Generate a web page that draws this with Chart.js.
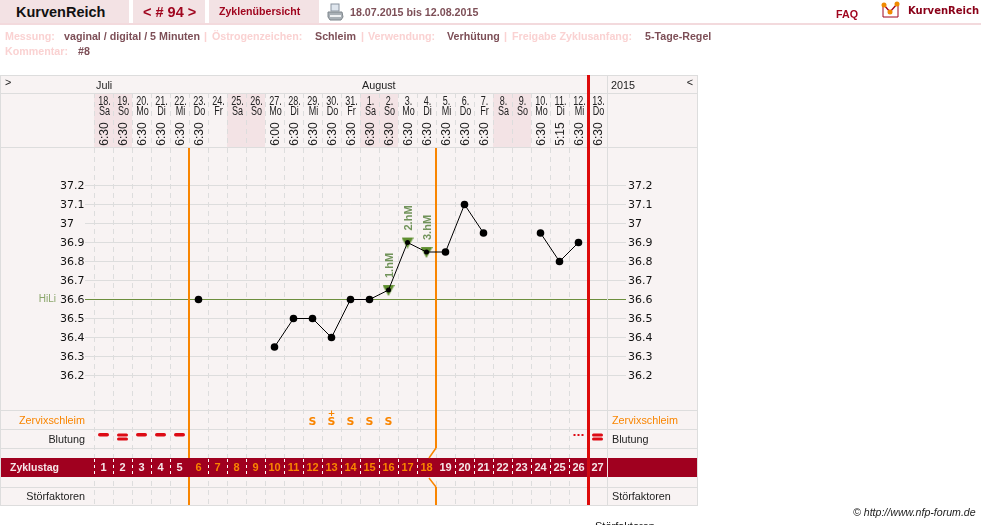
<!DOCTYPE html>
<html>
<head>
<meta charset="utf-8">
<title>KurvenReich</title>
<script src="https://cdn.jsdelivr.net/npm/chart.js@4"></script>
<style>
    html, body { margin: 0; padding: 0; background: #fff; overflow: hidden; }
    body { width: 981px; height: 525px; position: relative; font-family: "Liberation Sans", Arial, sans-serif; }
    canvas { position: absolute; left: 0; top: 0; }
    .tab { position: absolute; top: 0; height: 23px; background: #f3e2e4; }
    .rule { position: absolute; left: 0; top: 23px; width: 981px; height: 2px; background: #f3dadd; }
    .t { position: absolute; white-space: nowrap; font-size: 10.7px; line-height: 13px; font-weight: bold; }
    .key { color: #fad2d2; }
    .val { color: #7d4f57; }
    .dark { color: #a0061f; }
    svg { position: absolute; }
</style>
</head>
<body>
<canvas id="curveChart" width="981" height="525"></canvas>

<div class="tab" style="left:0;width:129px"></div>
<div class="tab" style="left:133px;width:72px"></div>
<div class="tab" style="left:209px;width:110px"></div>
<div class="rule"></div>
<div class="t" style="left:16px;top:4px;font-size:14.5px;line-height:17px;color:#111">KurvenReich</div>
<div class="t dark" style="left:143px;top:4px;font-size:14.5px;line-height:17px">&lt; # 94 &gt;</div>
<div class="t dark" style="left:219px;top:5px;font-size:10.6px">Zyklenübersicht</div>
<svg style="left:327px;top:3px" width="17" height="18" viewBox="0 0 17 18">
    <rect x="4" y="1" width="8" height="7" fill="#dfe6ee" stroke="#8a94a0"/>
    <path d="M1 9 L15 9 L16 14 L14 17 L3 17 L1 14 Z" fill="#a9b0b6" stroke="#7f868c"/>
    <rect x="3" y="12" width="11" height="2" fill="#eef0f2"/>
</svg>
<div class="t val" style="left:350px;top:6px;font-size:10.7px">18.07.2015 bis 12.08.2015</div>
<div class="t dark" style="left:836px;top:8px">FAQ</div>
<svg style="left:881px;top:1px" width="20" height="18" viewBox="0 0 20 18">
    <path d="M2 4 L2 16 L17 16 L17 4" fill="none" stroke="#a0061f" stroke-width="1"/>
    <path d="M3 4 L9 11 L16 3" fill="none" stroke="#a0061f" stroke-width="1.4"/>
    <circle cx="3" cy="4" r="2.5" fill="#f08a00"/>
    <circle cx="9" cy="11" r="2.5" fill="#f08a00"/>
    <circle cx="16" cy="3" r="2.5" fill="#f08a00"/>
</svg>
<div class="t" style="left:908px;top:4px;font-family:'DejaVu Sans';font-size:10px;color:#8a0018">KurvenReich</div>

<div class="t key" style="left:5px;top:30px">Messung:</div>
<div class="t val" style="left:64px;top:30px">vaginal / digital / 5 Minuten</div>
<div class="t key" style="left:204px;top:30px">|</div>
<div class="t key" style="left:212px;top:30px">Östrogenzeichen:</div>
<div class="t val" style="left:315px;top:30px">Schleim</div>
<div class="t key" style="left:361px;top:30px">|</div>
<div class="t key" style="left:368px;top:30px">Verwendung:</div>
<div class="t val" style="left:447px;top:30px">Verhütung</div>
<div class="t key" style="left:504px;top:30px">|</div>
<div class="t key" style="left:512px;top:30px">Freigabe Zyklusanfang:</div>
<div class="t val" style="left:645px;top:30px">5-Tage-Regel</div>
<div class="t key" style="left:5px;top:45px">Kommentar:</div>
<div class="t val" style="left:78px;top:45px">#8</div>

<script>
// one entry per cycle day
const cycleDays = ['1','2','3','4','5','6','7','8','9','10','11','12','13','14','15','16','17','18','19','20','21','22','23','24','25','26','27'];
const dates = ['18.','19.','20.','21.','22.','23.','24.','25.','26.','27.','28.','29.','30.','31.','1.','2.','3.','4.','5.','6.','7.','8.','9.','10.','11.','12.','13.'];
const weekdays = ['Sa','So','Mo','Di','Mi','Do','Fr','Sa','So','Mo','Di','Mi','Do','Fr','Sa','So','Mo','Di','Mi','Do','Fr','Sa','So','Mo','Di','Mi','Do'];
const times = ['6:30','6:30','6:30','6:30','6:30','6:30','','','','6:00','6:30','6:30','6:30','6:30','6:30','6:30','6:30','6:30','6:30','6:30','6:30','','','6:30','5:15','6:30','6:30'];
const temperatures = [null,null,null,null,null,36.6,null,null,null,36.35,36.5,36.5,36.4,36.6,36.6,36.65,36.9,36.85,36.85,37.1,36.95,null,null,36.95,36.8,36.9,null];
const highMeasures = [null,null,null,null,null,null,null,null,null,null,null,null,null,null,null,36.65,36.9,36.85,null,null,null,null,null,null,null,null,null];
const highLabels = { '16': '1.hM', '17': '2.hM', '18': '3.hM' };
const mucus = ['','','','','','','','','','','','S','S+','S','S','S','','','','','','','','','','',''];
const bleeding = [1,2,1,1,1,0,0,0,0,0,0,0,0,0,0,0,0,0,0,0,0,0,0,0,0,0.5,2];
const tickValues = [37.2,37.1,37,36.9,36.8,36.7,36.6,36.5,36.4,36.3,36.2];
const tickLabels = ['37.2','37.1','37','36.9','36.8','36.7','36.6','36.5','36.4','36.3','36.2'];
const coverLine = 36.6;
const orangeDays = [6,7,8,9,10,11,12,13,14,15,16,17,18];
const months = [{ name: 'Juli', day: '1' }, { name: 'August', day: '15' }];

const ROSE = '#f3e3e5';
const PAPER = '#f8f3f3';
const LINE = '#dddddd';
const WINE = '#a0001f';
const ORANGE = '#f98500';
const RED = '#dd0a0a';
const GREEN = '#6d8f3e';

// rows of the table around the plot
const TABLE = { left: 1, right: 697, top: 75, header: 93, plot: 148, bottom: 505 };
const rowLines = [410, 429, 448, 487];
const band = { top: 458, bottom: 477 };

function makeTriangle() {
    const c = document.createElement('canvas');
    c.width = 12;
    c.height = 12;
    const t = c.getContext('2d');
    t.fillStyle = '#5f8f30';
    t.beginPath();
    t.moveTo(0, 1);
    t.lineTo(12, 1);
    t.lineTo(6, 12);
    t.closePath();
    t.fill();
    return c;
}

function text(ctx, str, x, y, font, color, align) {
    ctx.font = font;
    ctx.fillStyle = color;
    ctx.textAlign = align || 'left';
    ctx.textBaseline = 'middle';
    ctx.fillText(str, x, y);
}

// the date columns are too tight for normal Arial, squeeze horizontally
function narrowText(ctx, str, x, y) {
    ctx.save();
    ctx.translate(x, y);
    ctx.scale(0.75, 1);
    text(ctx, str, 0, 0, '12px "Liberation Sans"', '#222', 'center');
    ctx.restore();
}

function hLine(ctx, y, x1, x2, color) {
    ctx.fillStyle = color;
    ctx.fillRect(x1, y, x2 - x1, 1);
}

const tablePlugin = {
    id: 'tablePlugin',
    beforeDraw(chart) {
        const ctx = chart.ctx;
        const x = chart.scales.x;
        const step = x.getPixelForValue(1) - x.getPixelForValue(0);
        ctx.save();
        ctx.fillStyle = PAPER;
        ctx.fillRect(TABLE.left, TABLE.top, TABLE.right - TABLE.left, TABLE.bottom - TABLE.top);
        // weekend columns
        ctx.fillStyle = ROSE;
        weekdays.forEach((d, i) => {
            if (d === 'Sa' || d === 'So') {
                ctx.fillRect(x.getPixelForValue(i) - step / 2, TABLE.header + 1, step, TABLE.plot - TABLE.header - 2);
            }
        });
        ctx.restore();
    },
    beforeDatasetsDraw(chart) {
        const ctx = chart.ctx;
        const x = chart.scales.x;
        const step = x.getPixelForValue(1) - x.getPixelForValue(0);
        const edge = i => Math.round(x.getPixelForValue(i) - step / 2);
        ctx.save();

        // frame and row lines
        hLine(ctx, TABLE.top, 0, TABLE.right + 1, LINE);
        hLine(ctx, TABLE.header, 0, TABLE.right + 1, LINE);
        hLine(ctx, TABLE.plot - 1, 0, TABLE.right + 1, LINE);
        hLine(ctx, TABLE.bottom, 0, TABLE.right + 1, LINE);
        rowLines.forEach(y => hLine(ctx, y, 0, TABLE.right + 1, LINE));
        ctx.fillStyle = LINE;
        ctx.fillRect(0, TABLE.top, 1, TABLE.bottom - TABLE.top + 1);
        ctx.fillRect(TABLE.right, TABLE.top, 1, TABLE.bottom - TABLE.top + 1);
        ctx.fillRect(edge(27), TABLE.top, 1, TABLE.bottom - TABLE.top + 1);

        // dashed separators in the date header
        ctx.strokeStyle = LINE;
        ctx.setLineDash([5, 4]);
        for (let i = 0; i < 27; i++) {
            ctx.beginPath();
            ctx.moveTo(edge(i) + 0.5, TABLE.header);
            ctx.lineTo(edge(i) + 0.5, TABLE.plot);
            ctx.stroke();
        }
        ctx.setLineDash([]);

        // cycle day band
        ctx.fillStyle = WINE;
        ctx.fillRect(TABLE.left, band.top, TABLE.right - TABLE.left, band.bottom - band.top);
        ctx.strokeStyle = '#ffffff';
        ctx.setLineDash([3, 3]);
        for (let i = 0; i < 27; i++) {
            if (i === 5 || i === 18 || i === 26) continue;
            ctx.beginPath();
            ctx.moveTo(edge(i) + 0.5, band.top + 1);
            ctx.lineTo(edge(i) + 0.5, band.bottom);
            ctx.stroke();
        }
        ctx.setLineDash([]);
        ctx.fillStyle = '#f4dfe2';
        ctx.fillRect(edge(27), band.top, 1, band.bottom - band.top);

        // orange marks: mucus peak start, temperature rise end
        ctx.fillStyle = ORANGE;
        ctx.fillRect(edge(5) - 1, TABLE.plot, 2, band.top - TABLE.plot);
        ctx.fillRect(edge(5) - 1, band.bottom, 2, TABLE.bottom - band.bottom);
        ctx.fillRect(edge(18) - 1, TABLE.plot, 2, 448 - TABLE.plot);
        ctx.fillRect(edge(18) - 1, 487, 2, TABLE.bottom - 487);
        ctx.strokeStyle = ORANGE;
        ctx.lineWidth = 1.5;
        ctx.beginPath();
        ctx.moveTo(edge(18), 448);
        ctx.lineTo(edge(18) - 7, 458);
        ctx.moveTo(edge(18) - 7, 478);
        ctx.lineTo(edge(18), 487);
        ctx.stroke();

        // last day of the cycle
        ctx.fillStyle = RED;
        ctx.fillRect(edge(26) - 1, TABLE.top, 3, TABLE.bottom - TABLE.top);
        ctx.fillStyle = '#cf0a12';
        ctx.fillRect(edge(26) - 1, band.top, 3, band.bottom - band.top);

        // top row
        const f = '10.8px "Liberation Sans"';
        text(ctx, '>', 5, 83, f, '#222');
        months.forEach(m => {
            text(ctx, m.name, edge(cycleDays.indexOf(m.day)) + 2, 86, f, '#222');
        });
        text(ctx, '2015', 611, 86, f, '#222');
        text(ctx, '<', 690, 83, f, '#222', 'center');

        // date columns
        cycleDays.forEach((d, i) => {
            const cx = x.getPixelForValue(i) + 1;
            narrowText(ctx, dates[i], cx, 102);
            narrowText(ctx, weekdays[i], cx, 112);
            if (times[i]) {
                ctx.save();
                ctx.translate(cx, 134);
                ctx.rotate(-Math.PI / 2);
                text(ctx, times[i], 0, 0, '12px "Liberation Sans"', '#222', 'center');
                ctx.restore();
            }
        });

        // row labels
        text(ctx, 'Zervixschleim', 85, 421, f, ORANGE, 'right');
        text(ctx, 'Blutung', 85, 440, f, '#222', 'right');
        text(ctx, 'Störfaktoren', 85, 497, f, '#222', 'right');
        text(ctx, 'Zyklustag', 10, 468, 'bold 10.5px "Liberation Sans"', '#f6e6e8');
        text(ctx, 'Zervixschleim', 612, 421, f, ORANGE);
        text(ctx, 'Blutung', 612, 440, f, '#222');
        text(ctx, 'Störfaktoren', 612, 497, f, '#222');
        text(ctx, 'HiLi', 56, 299, '10px "Liberation Sans"', '#8aa56a', 'right');

        // cycle day numbers
        cycleDays.forEach((d, i) => {
            const color = orangeDays.includes(Number(d)) ? ORANGE : '#f6e6e8';
            text(ctx, d, x.getPixelForValue(i), 468, 'bold 11px "Liberation Sans"', color, 'center');
        });

        // mucus signs
        mucus.forEach((m, i) => {
            if (!m) return;
            const cx = x.getPixelForValue(i);
            text(ctx, 'S', cx, 422, 'bold 11px "DejaVu Sans"', ORANGE, 'center');
            if (m === 'S+') {
                text(ctx, '+', cx, 414, 'bold 9px "DejaVu Sans"', ORANGE, 'center');
            }
        });

        // bleeding strength
        ctx.fillStyle = '#dd0a14';
        bleeding.forEach((b, i) => {
            const cx = x.getPixelForValue(i);
            if (b === 1) {
                ctx.beginPath();
                ctx.roundRect(cx - 5.5, 433, 11, 3.5, 1.75);
                ctx.fill();
            } else if (b === 2) {
                ctx.beginPath();
                ctx.roundRect(cx - 5.5, 433.5, 11, 3, 1.5);
                ctx.roundRect(cx - 5.5, 437.5, 11, 3, 1.5);
                ctx.fill();
            } else if (b === 0.5) {
                [-4, 0, 4].forEach(o => ctx.fillRect(cx + o - 1, 434, 2, 2));
            }
        });
        ctx.restore();
    },
    afterDatasetsDraw(chart) {
        const ctx = chart.ctx;
        const x = chart.scales.x;
        const y = chart.scales.y;
        ctx.save();
        // labels above the three high measurements
        highMeasures.forEach((v, i) => {
            if (v === null) return;
            ctx.save();
            ctx.translate(x.getPixelForValue(i) + 1, y.getPixelForValue(v) - 12);
            ctx.rotate(-Math.PI / 2);
            text(ctx, highLabels[cycleDays[i]], 0, 0, 'bold 11px "Liberation Sans"', '#71935a');
            ctx.restore();
        });
        // footer notes
        text(ctx, '© http://www.nfp-forum.de', 853, 513.5, 'italic 10.6px "Liberation Sans"', '#222');
        text(ctx, 'Störfaktoren', 595, 527, '11px "Liberation Sans"', '#111');
        ctx.restore();
    }
};

function lineColor(ctx) {
    return ctx.tick && ctx.tick.value === coverLine ? GREEN : LINE;
}

document.addEventListener('DOMContentLoaded', function() {
    const fontTicks = { family: '"DejaVu Sans"', size: 11 };
    const yMin = 35.5184;
    const yMax = 37.3974;

    new Chart(document.getElementById('curveChart'), {
        type: 'line',
        data: {
            labels: cycleDays,
            datasets: [
                {
                    label: 'hM',
                    data: highMeasures,
                    showLine: false,
                    pointStyle: makeTriangle(),
                    order: 2
                },
                {
                    label: 'Temperatur',
                    data: temperatures,
                    borderColor: '#000',
                    borderWidth: 1,
                    backgroundColor: '#000',
                    tension: 0,
                    spanGaps: false,
                    pointRadius: ctx => highMeasures[ctx.dataIndex] === null ? 3.8 : 2.5,
                    pointBackgroundColor: '#000',
                    pointBorderWidth: 0,
                    order: 1
                }
            ]
        },
        options: {
            responsive: false,
            animation: false,
            layout: {
                autoPadding: false,
                padding: { left: 60, right: 0, top: 148, bottom: 20 }
            },
            plugins: { legend: { display: false }, tooltip: { enabled: false } },
            scales: {
                x: {
                    type: 'category',
                    offset: true,
                    ticks: { display: false },
                    grid: { offset: true, color: LINE, drawTicks: false },
                    border: { display: false, dash: [5, 4] }
                },
                y: {
                    position: 'left',
                    min: yMin,
                    max: yMax,
                    afterBuildTicks: axis => { axis.ticks = tickValues.map(v => ({ value: v })); },
                    afterFit: axis => { axis.width = 34; },
                    ticks: {
                        crossAlign: 'far',
                        labelOffset: 1,
                        color: '#111',
                        font: fontTicks,
                        callback: v => tickLabels[tickValues.indexOf(v)]
                    },
                    grid: { color: lineColor, tickColor: lineColor, tickLength: 9 },
                    border: { display: false }
                },
                y2: {
                    position: 'right',
                    min: yMin,
                    max: yMax,
                    afterBuildTicks: axis => { axis.ticks = tickValues.map(v => ({ value: v })); },
                    afterFit: axis => { axis.width = 374; },
                    ticks: {
                        padding: 2,
                        labelOffset: 1,
                        color: '#111',
                        font: fontTicks,
                        callback: v => tickLabels[tickValues.indexOf(v)]
                    },
                    grid: { drawOnChartArea: false, tickColor: lineColor, tickLength: 19 },
                    border: { display: false }
                }
            }
        },
        plugins: [tablePlugin]
    });
});
</script>
</body>
</html>
